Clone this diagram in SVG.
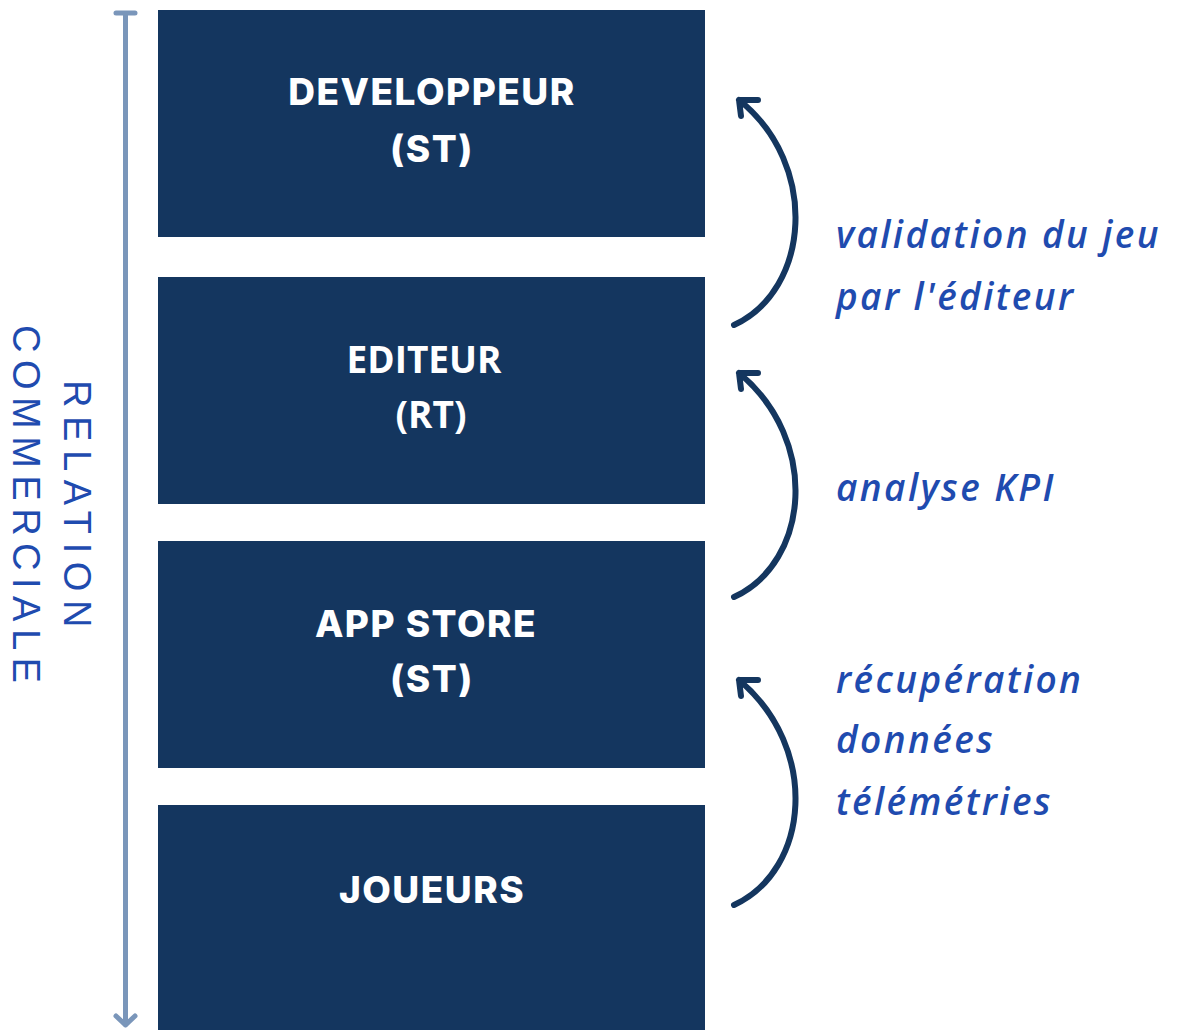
<svg xmlns="http://www.w3.org/2000/svg" width="1182" height="1030" viewBox="0 0 1182 1030">
<style>
.box{fill:#14365F}
.bt{fill:#FFFFFF;font-family:"Inter","Lato",sans-serif;font-weight:800;font-size:37px;letter-spacing:1.5px;text-anchor:middle}
.bt2{fill:#FFFFFF;font-family:"Open Sans","Liberation Sans",sans-serif;font-weight:700;font-size:37px;text-anchor:middle}
.it{fill:#1F4BAF;font-family:"Open Sans","Lato",sans-serif;font-style:italic;font-weight:600;font-size:37px;letter-spacing:2.4px}
.side{fill:#1F4BAF;font-family:"Liberation Sans","DejaVu Sans",sans-serif;font-size:38px;letter-spacing:7.5px}
.arc{fill:none;stroke:#14365F;stroke-width:6;stroke-linecap:round;stroke-linejoin:round}
.rel{fill:none;stroke:#7A96BA;stroke-width:5;stroke-linecap:round;stroke-linejoin:round}
</style>
<rect width="1182" height="1030" fill="#FFFFFF"/>
<g id="developpeur">
<rect class="box" x="158" y="10" width="547" height="227"/>
<text class="bt" x="432" y="105">DEVELOPPEUR</text>
<text class="bt" x="432" y="162">(ST)</text>
</g>
<g id="editeur">
<rect class="box" x="158" y="277" width="547" height="227"/>
<text class="bt2" x="424" y="373">EDITEUR</text>
<text class="bt2" x="431" y="428">(RT)</text>
</g>
<g id="appstore">
<rect class="box" x="158" y="541" width="547" height="227"/>
<text class="bt" x="426" y="637">APP STORE</text>
<text class="bt" x="432" y="692">(ST)</text>
</g>
<g id="joueurs">
<rect class="box" x="158" y="805" width="547" height="225"/>
<text class="bt" x="432" y="903">JOUEURS</text>
</g>
<g id="relation">
<path class="rel" d="M116,13 H135 M125.5,13 V1025 M116,1016 L125.5,1025 L135,1016"/>
<text class="side" transform="translate(64,380) rotate(90)" style="letter-spacing:8.6px">RELATION</text>
<text class="side" transform="translate(13,325) rotate(90)">COMMERCIALE</text>
</g>
<g id="connectors">
<path class="arc" d="M734,325 C810,290 820,165 739,100 M758,100 L739,100 L741,116"/>
<path class="arc" d="M734,597 C810,562 820,440 739,373 M758,373 L739,373 L741,389"/>
<path class="arc" d="M734,905 C810,870 820,748 739,680 M758,680 L739,680 L741,696"/>
</g>
<g id="labels">
<text class="it" x="836" y="248">validation du jeu</text>
<text class="it" x="836" y="310">par l'éditeur</text>
<text class="it" x="836" y="501">analyse KPI</text>
<text class="it" x="836" y="693">récupération</text>
<text class="it" x="836" y="753">données</text>
<text class="it" x="836" y="815">télémétries</text>
</g>
</svg>
